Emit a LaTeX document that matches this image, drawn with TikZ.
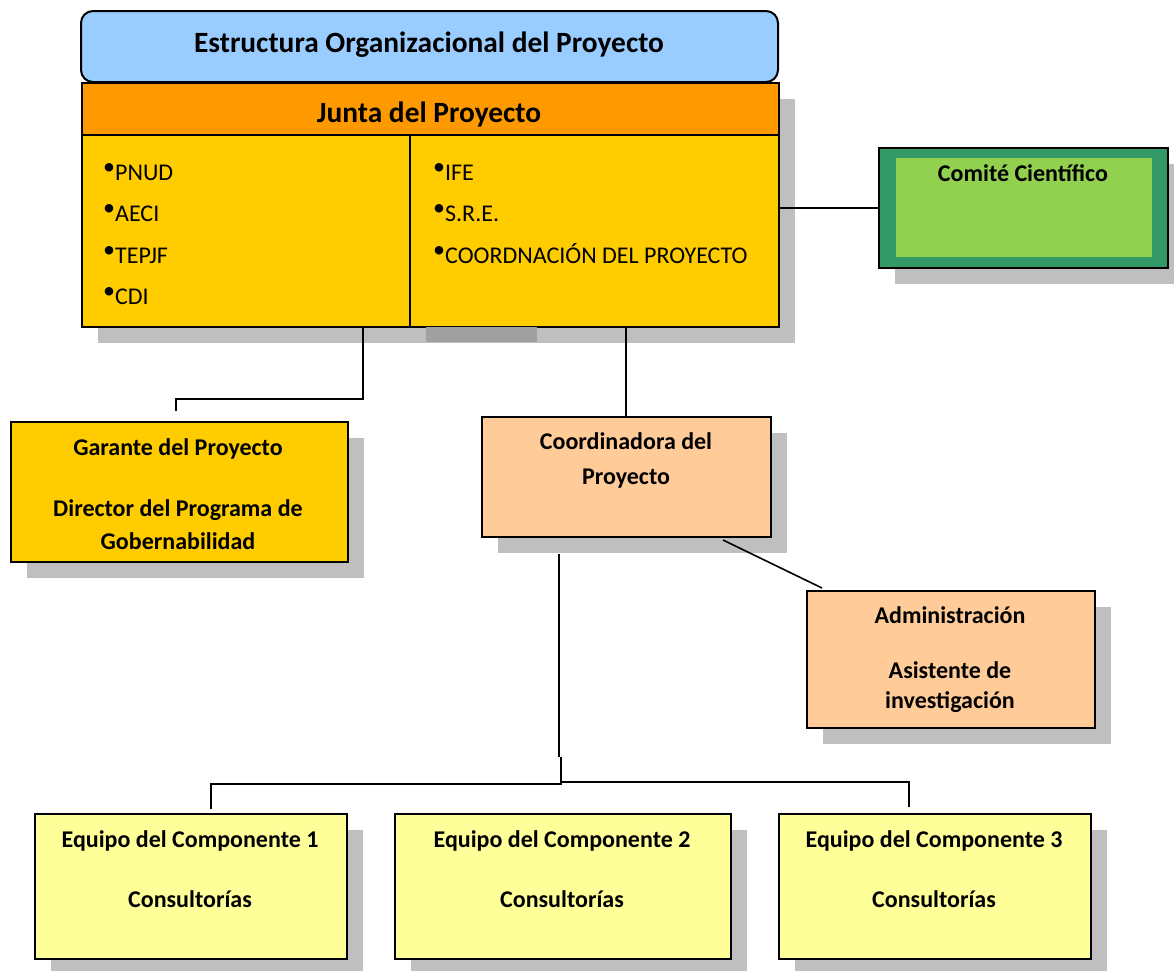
\documentclass[tikz,border=0pt]{standalone}
\usepackage{fontspec}
\setmainfont{Carlito}
\usetikzlibrary{shadows}

\definecolor{titleblue}{HTML}{99CCFF}
\definecolor{juntaorange}{HTML}{FF9900}
\definecolor{juntagold}{HTML}{FFCC00}
\definecolor{peach}{HTML}{FFCC99}
\definecolor{paleyellow}{HTML}{FFFF99}
\definecolor{darkgreen}{HTML}{339966}
\definecolor{lightgreen}{HTML}{92D050}
\definecolor{shade}{HTML}{BFBFBF}
\definecolor{shadedark}{HTML}{A0A0A0}

\begin{document}
\begin{tikzpicture}[x=1pt, y=-1pt,
  box/.style={draw=black, line width=2pt, inner sep=0pt, anchor=north west,
    drop shadow={shadow xshift=16pt, shadow yshift=-16pt, fill=shade, opacity=1}},
  title/.style={font=\fontsize{29.4}{34}\selectfont\bfseries, anchor=base, inner sep=0pt},
  lbl/.style={font=\fontsize{24}{28}\selectfont\bfseries, anchor=base, inner sep=0pt},
  item/.style={font=\fontsize{24}{28}\selectfont, anchor=base west, inner sep=0pt},
  link/.style={draw=black, line width=1.6pt}]
  \useasboundingbox (0,0) rectangle (1174,970);

  \coordinate (jL) at (363,326);
  \coordinate (jR) at (626,326);
  \coordinate (cT) at (626,416);
  \coordinate (gT) at (176,411);
  \coordinate (cA) at (723,540);
  \coordinate (aA) at (822,588);
  \coordinate (cB) at (559,554);
  \coordinate (jog) at (559,757);
  \coordinate (hub) at (561,783);
  \coordinate (e1T) at (211,809);
  \coordinate (e3T) at (909,807);

  \node[box, fill=juntaorange, minimum width=697pt, minimum height=52pt] (head) at (81,82) {};
  \node[box, fill=juntagold, minimum width=697pt, minimum height=192pt] (junta) at (81,134) {};
  \fill[shadedark] (426,327) rectangle (537,342);
  \draw[line width=2pt] (410,134) -- (410,326);
  \draw[draw=black, line width=2pt, fill=titleblue, rounded corners=12pt] (81,82) -- (81,11) -- (778,11) -- (778,82) -- cycle;

  \node[box, fill=darkgreen, line width=1.5pt, minimum width=289pt, minimum height=120pt] (comite) at (878,147) {};
  \node[fill=lightgreen, inner sep=0pt, anchor=north west, minimum width=256pt, minimum height=99pt] (comiteIn) at (896,158) {};

  \node[box, fill=juntagold, minimum width=337pt, minimum height=140pt] (garante) at (10,421) {};
  \node[box, fill=peach, minimum width=289pt, minimum height=120pt] (coord) at (481,416) {};
  \node[box, fill=peach, minimum width=288pt, minimum height=137pt] (admin) at (806,590) {};
  \node[box, fill=paleyellow, minimum width=312pt, minimum height=145pt] (equipoA) at (34,813) {};
  \node[box, fill=paleyellow, minimum width=336pt, minimum height=145pt] (equipoB) at (394,813) {};
  \node[box, fill=paleyellow, minimum width=312pt, minimum height=145pt] (equipoC) at (778,813) {};

  \node[title] (ttlA) at (429,52) {Estructura Organizacional del Proyecto};
  \node[title] (headA) at (429,122) {Junta del Proyecto};
  \node[item] (pnud) at (103,180) {\raisebox{0.25em}{\textbullet}PNUD};
  \node[item] (aeci) at (103,221) {\raisebox{0.25em}{\textbullet}AECI};
  \node[item] (tepjf) at (103,263) {\raisebox{0.25em}{\textbullet}TEPJF};
  \node[item] (cdi) at (103,304) {\raisebox{0.25em}{\textbullet}CDI};
  \node[item] (ife) at (433,180) {\raisebox{0.25em}{\textbullet}IFE};
  \node[item] (sre) at (433,221) {\raisebox{0.25em}{\textbullet}S.R.E.};
  \node[item] (cdp) at (433,263) {\raisebox{0.25em}{\textbullet}COORDNACIÓN DEL PROYECTO};
  \node[lbl] (comiteA) at (1023,181) {Comité Científico};
  \node[lbl] (garanteA) at (178,455) {Garante del Proyecto};
  \node[lbl] (garanteB) at (178,516) {Director del Programa de};
  \node[lbl] (garanteC) at (178,549) {Gobernabilidad};
  \node[lbl] (coordA) at (626,449) {Coordinadora del};
  \node[lbl] (coordB) at (626,484) {Proyecto};
  \node[lbl] (adminA) at (950,623) {Administración};
  \node[lbl] (adminB) at (950,678) {Asistente de};
  \node[lbl] (adminC) at (950,708) {investigación};
  \node[lbl] (equipoA1) at (190,847) {Equipo del Componente 1};
  \node[lbl] (equipoA2) at (190,907) {Consultorías};
  \node[lbl] (equipoB1) at (562,847) {Equipo del Componente 2};
  \node[lbl] (equipoB2) at (562,907) {Consultorías};
  \node[lbl] (equipoC1) at (934,847) {Equipo del Componente 3};
  \node[lbl] (equipoC2) at (934,907) {Consultorías};

  \draw[link] (jL) -- (363,399) -| (gT);
  \draw[link] (jR) -- (cT);
  \draw[link] (junta.east |- comite.west) -- (comite.west);
  \draw[link] (cA) -- (aA);
  \draw[link] (cB) -- (jog);
  \draw[link] (jog) ++(2,0) -- (hub);
  \draw[link] (hub) |- (e1T |- 0,784) -- (e1T);
  \draw[link] (hub) |- (e3T |- 0,782) -- (e3T);
\end{tikzpicture}
\end{document}
